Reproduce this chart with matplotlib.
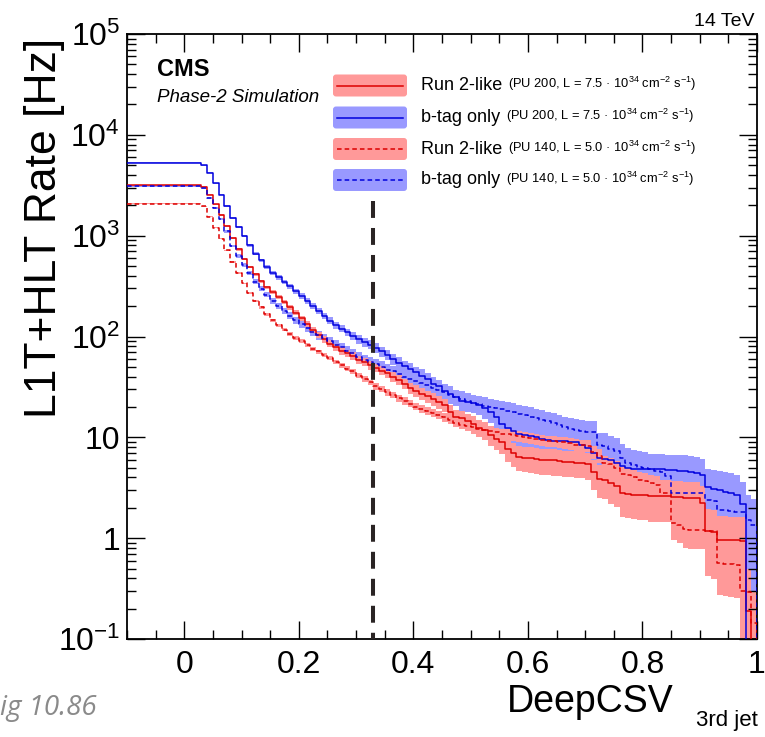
import numpy as np
import matplotlib
matplotlib.use("Agg")
import matplotlib.pyplot as plt
from matplotlib.patches import FancyBboxPatch
from matplotlib.lines import Line2D
from matplotlib.ticker import FixedLocator, MultipleLocator, LogLocator, FuncFormatter, NullFormatter

plt.rcParams['font.family'] = ['Liberation Sans', 'DejaVu Sans']
plt.rcParams['mathtext.fontset'] = 'custom'
plt.rcParams['mathtext.rm'] = 'Liberation Sans'
plt.rcParams['mathtext.it'] = 'Liberation Sans:italic'
plt.rcParams['mathtext.bf'] = 'Liberation Sans:bold'

# DeepCSV threshold on the 3rd jet, 0.01 wide bins from -0.1 to 1.0
edges = np.round(np.linspace(-0.10, 1.00, 111), 2)

# L1T+HLT rate [Hz] above each threshold
rate_run2_pu200 = [3150] * 13 + [
    3050, 2560, 2040, 1600, 1240, 950, 730, 590, 490, 415,
    352, 308, 277, 249, 222, 195, 172, 151, 133, 116,
    103, 94, 85, 78, 72, 68, 64, 59, 56, 52,
    49, 46, 43, 40, 37, 34, 31, 29, 27, 25.5,
    24, 22.5, 21, 18, 16, 15.5, 14.5, 13.5, 12.5, 11.8,
    10.5, 9.6, 8.9, 7.6, 7.0, 6.4, 6.3, 6.2, 6.1, 6.0,
    6.0, 5.9, 5.8, 5.7, 5.7, 5.6, 5.6, 5.4, 4.5, 3.9,
    3.8, 3.5, 3.3, 2.8, 2.75, 2.7, 2.65, 2.65, 2.6, 2.6,
    2.6, 2.6, 2.55, 2.55, 2.5, 2.5, 2.5, 2.25, 1.19, 1.15,
    0.97, 0.96, 0.95, 0.95, 0.94, 0.19, 0.03]

rate_btag_pu200 = [5300] * 13 + [
    5000, 4200, 3300, 2560, 1950, 1510, 1220, 990, 800, 662,
    569, 488, 426, 385, 348, 314, 281, 252, 225, 201,
    179, 160, 143, 130, 120, 110, 101, 94, 88, 83,
    77, 71, 66, 60, 55, 51, 48, 44, 41, 37.5,
    34, 32, 29, 27, 25, 23, 22.4, 21.8, 21, 19.5,
    18, 16, 13.5, 12.5, 11.5, 10.8, 10.5, 10.2, 10.0, 9.7,
    9.5, 9.3, 9.2, 9.1, 9.0, 8.9, 8.3, 7.9, 7.0, 6.2,
    6.1, 6.0, 5.6, 5.2, 5.0, 4.9, 4.9, 4.8, 4.8, 4.8,
    4.8, 4.7, 4.7, 4.6, 4.6, 4.5, 4.4, 4.2, 3.2, 3.1,
    3.0, 2.9, 2.8, 2.7, 2.2, 0.05, 0.05]

rate_run2_pu140 = [2080] * 13 + [
    1950, 1545, 1200, 933, 713, 547, 424, 336, 273, 225,
    194, 166, 145, 130, 117, 106, 97, 90, 83, 76,
    71, 66, 61, 56, 52, 48, 45, 41, 38, 35,
    32, 30, 28, 26.3, 24.5, 23, 21.6, 20.2, 19, 18.2,
    17.5, 16.8, 15.8, 15, 14, 13.4, 13, 12.6, 12.2, 11.9,
    11.6, 11.2, 10.9, 10.7, 10.5, 10.2, 10, 9.8, 9.6, 9.4,
    9.2, 9.1, 9.0, 8.9, 8.7, 8.4, 8.3, 8.2, 7.1, 6.6,
    5.6, 5.4, 5.0, 4.3, 4.2, 4.0, 3.8, 3.7, 3.5, 3.4,
    2.8, 2.8, 1.43, 1.35, 1.22, 1.2, 1.2, 1.2, 1.19, 1.19,
    0.57, 0.56, 0.55, 0.54, 0.30, 0.29, 0.145]

rate_btag_pu140 = [3100] * 13 + [
    2940, 2365, 1880, 1460, 1100, 790, 630, 515, 425, 351,
    299, 260, 226, 201, 180, 161, 146, 133, 122, 112,
    103, 96, 90, 83, 78, 72, 68, 63, 59, 56,
    53, 50, 47, 45, 42.5, 40, 38, 36, 34.5, 33,
    31, 29.5, 28, 26.5, 25, 24, 23, 22, 21.2, 20.6,
    20, 19.5, 19, 18.4, 17.8, 17.1, 16.6, 16, 15.5, 15,
    14.4, 14, 13.3, 12.6, 12.1, 11.9, 11.6, 11.4, 11.2, 8.4,
    8.2, 7.6, 7.3, 6.2, 5.6, 5.3, 5.1, 5.0, 4.8, 4.6,
    4.5, 4.1, 2.8, 2.8, 2.8, 2.8, 2.8, 2.8, 2.4, 2.35,
    1.9, 1.9, 1.85, 1.8, 1.8, 1.5, 1.35]

# average rate carried by one simulated event, sets the statistical band
event_weight = {'run2_pu200': 0.5, 'btag_pu200': 0.9, 'run2_pu140': 0.15, 'btag_pu140': 0.9}

working_point = 0.33

labels_main = ['Run 2-like', 'b-tag only', 'Run 2-like', 'b-tag only']
labels_cond = [r'(PU 200, L = 7.5 · 10$^{34}$ cm$^{-2}$ s$^{-1}$)',
               r'(PU 200, L = 7.5 · 10$^{34}$ cm$^{-2}$ s$^{-1}$)',
               r'(PU 140, L = 5.0 · 10$^{34}$ cm$^{-2}$ s$^{-1}$)',
               r'(PU 140, L = 5.0 · 10$^{34}$ cm$^{-2}$ s$^{-1}$)']

RED, BLUE = '#dd0000', '#0000dd'
RED_BAND, BLUE_BAND = '#ff9999', '#9999ff'

series = [
    # key, values, line colour, band colour, dashed
    ('run2_pu200', rate_run2_pu200, RED, RED_BAND, False),
    ('btag_pu200', rate_btag_pu200, BLUE, BLUE_BAND, False),
    ('run2_pu140', rate_run2_pu140, RED, RED_BAND, True),
    ('btag_pu140', rate_btag_pu140, BLUE, BLUE_BAND, True),
]

W, H = 765, 737
fig = plt.figure(figsize=(W / 100, H / 100), dpi=100)
ax = fig.add_axes([127 / W, 1 - 639 / H, 630 / W, 605 / H])


def fpos(x, y):
    # pixel position -> figure fraction
    return x / W, 1 - y / H


# bands: blue ones underneath, red ones on top
band_order = ['btag_pu200', 'btag_pu140', 'run2_pu200', 'run2_pu140']
for key in band_order:
    _, vals, _, band_col, _ = next(s for s in series if s[0] == key)
    vals = np.array(vals, dtype=float)
    err = np.sqrt(vals * event_weight[key])
    lo = np.clip(vals - err, 1e-3, None)
    hi = vals + err
    ax.fill_between(edges, np.append(lo, lo[-1]), np.append(hi, hi[-1]),
                    step='post', color=band_col, lw=0, zorder=1)

for key, vals, col, _, dashed in series:
    vals = np.array(vals, dtype=float)
    xs = np.append(edges, edges[-1])
    ys = np.append(vals, [vals[-1], 1e-3])
    kw = dict(dashes=(3, 2)) if dashed else {}
    ax.plot(xs, ys, drawstyle='steps-post', color=col, lw=1.1, zorder=3, **kw)

# chosen working point
ax.plot([working_point, working_point], [2200, 0.1], color='#2a2424', lw=2.9,
        dashes=(4.2, 2.5), zorder=5)

ax.set_xlim(-0.1, 1.0)
ax.set_yscale('log')
ax.set_ylim(0.1, 1e5)

ax.xaxis.set_major_locator(FixedLocator([0, 0.2, 0.4, 0.6, 0.8, 1.0]))
ax.xaxis.set_major_formatter(FuncFormatter(lambda v, _: f"{v:g}"))
ax.xaxis.set_minor_locator(MultipleLocator(0.05))

ylabels = {0.1: r'$10^{-1}$', 1: '1', 10: '10', 100: r'$10^{2}$',
           1000: r'$10^{3}$', 10000: r'$10^{4}$', 100000: r'$10^{5}$'}
ax.yaxis.set_major_locator(FixedLocator(list(ylabels.keys())))
ax.yaxis.set_major_formatter(FuncFormatter(
    lambda v, _: next((t for k, t in ylabels.items() if abs(v - k) < 1e-6 * k), '')))
ax.yaxis.set_minor_locator(LogLocator(base=10, subs=np.arange(2, 10), numticks=20))
ax.yaxis.set_minor_formatter(NullFormatter())

ax.tick_params(which='both', direction='in', top=True, right=True, width=1, color='black')
ax.tick_params(which='major', length=13)
ax.tick_params(which='minor', length=6.5)
ax.tick_params(axis='x', which='major', labelsize=23, pad=8)
ax.tick_params(axis='y', which='major', labelsize=23, pad=5)
for sp in ax.spines.values():
    sp.set_linewidth(1.3)

# axis titles
fig.text(*fpos(45, 38), 'L1T+HLT Rate [Hz]', rotation=90, fontsize=32,
         ha='center', va='top')
fig.text(*fpos(674, 712), 'DeepCSV', fontsize=27, ha='right', va='baseline')
fig.text(*fpos(758, 726), '3rd jet', fontsize=16, ha='right', va='baseline')

fig.text(*fpos(157, 76), 'CMS', fontsize=17, fontweight='bold', va='baseline')
fig.text(*fpos(157, 102), 'Phase-2 Simulation', fontsize=13.5, style='italic', va='baseline')
fig.text(*fpos(755, 26), '14 TeV', fontsize=14, ha='right', va='baseline')

# legend
row_y = [85.5, 117.5, 149, 180]
for (key, vals, col, band_col, dashed), yc, lab, cond in zip(series, row_y, labels_main, labels_cond):
    box = FancyBboxPatch(fpos(333, yc + 11), 74 / W, 22 / H,
                         boxstyle='round,pad=0,rounding_size=0.004',
                         transform=fig.transFigure, facecolor=band_col, lw=0)
    fig.add_artist(box)
    kw = dict(dashes=(3, 2)) if dashed else {}
    fig.add_artist(Line2D([337 / W, 403 / W], [1 - yc / H] * 2, transform=fig.transFigure,
                          color=col, lw=1.1, **kw))
    t = fig.text(*fpos(421, yc), lab, fontsize=13, va='center')
    ax.annotate(cond, xy=(1, 0), xycoords=t, xytext=(4, 0.5), textcoords='offset points',
                fontsize=9.3, va='bottom', annotation_clip=False)

fig.text(*fpos(97, 715), 'ig 10.86', fontsize=20, family='Open Sans', style='italic',
         color='#8a8a8a', ha='right', va='baseline')

fig.savefig('out.png', dpi=100)
